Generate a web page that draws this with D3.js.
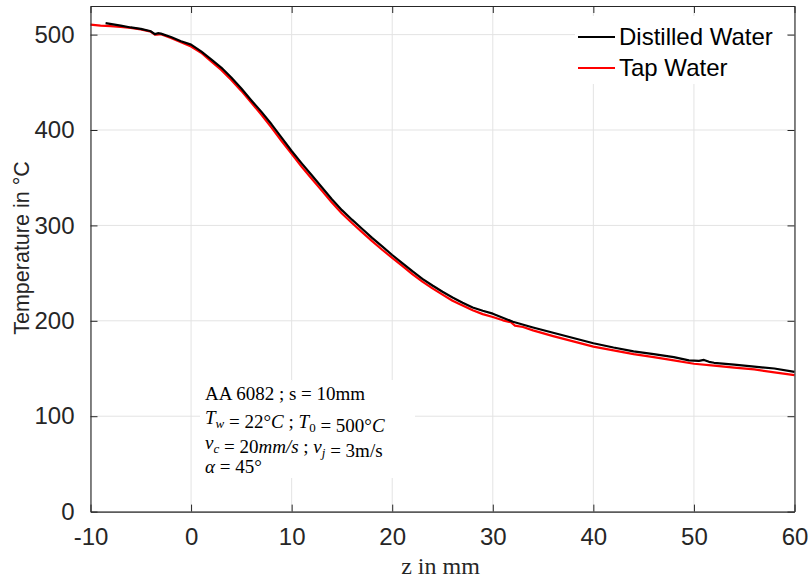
<!DOCTYPE html>
<html>
<head>
<meta charset="utf-8">
<script src="https://cdn.jsdelivr.net/npm/d3@7"></script>
<style>
  body { margin: 0; background: #fff; }
  svg { display: block; }
</style>
</head>
<body>
<div id="chart"></div>
<script>
// ---- data ----
const zDistilled = [-8.5, -7, -6, -5, -4, -3.6, -3.3, -3, -2, -1,
    0, 1, 2, 3, 4, 5, 6, 7, 8, 9,
    10, 11, 12, 13, 14, 15, 16, 17, 18, 19,
    20, 21, 22, 23, 24, 25, 26, 27, 28, 29, 30,
    32, 34, 36, 38, 40, 42, 44, 46, 48, 49.5, 50.5, 51, 51.5, 52, 54, 56, 58, 60];
const tDistilled = [512, 509.5, 507.5, 506, 503.5, 500.5, 501.5, 501, 497.5, 493,
    489.5, 482.5, 474, 465.5, 455, 443.5, 431, 419, 406, 392,
    378, 365, 352.5, 340, 327.5, 316, 306, 296.5, 287, 278,
    269, 260.5, 252, 244, 237, 230.5, 224.5, 219, 214, 210.5, 207.5,
    199, 193, 187.5, 182, 176.5, 172, 168, 165, 162, 158.5, 158, 159, 157, 156, 154, 152, 150, 146.5];

const zTap = [-10, -9, -8, -7, -6, -5, -4, -3.6, -3.4, -3, -2, -1,
    0, 1, 2, 3, 4, 5, 6, 7, 8, 9,
    10, 11, 12, 13, 14, 15, 16, 17, 18, 19,
    20, 21, 22, 23, 24, 25, 26, 27, 28, 29, 30,
    31, 31.8, 32.2, 33, 34, 36, 38, 40, 42, 44, 46, 48, 50, 52, 54, 56, 58, 60];
const tTap = [510.5, 509.5, 509, 508, 507, 505.5, 503, 500, 500, 500.5, 496.5, 492,
    487.5, 481, 472, 463, 452.5, 441, 428.5, 416, 402.5, 388.5,
    375, 361.5, 349, 336.5, 324, 312.5, 302.5, 293, 283.5, 274.5,
    266, 257.5, 249, 241, 234, 227.5, 221, 216, 211, 207, 204,
    200.5, 198.5, 195, 193.5, 190, 184, 178.5, 173, 169, 165, 162, 158.5, 155, 153, 151, 149, 146, 143];

const seriesNames = ["Distilled Water", "Tap Water"];
const seriesColors = ["#000000", "#ff0000"];
const xTicks = [-10, 0, 10, 20, 30, 40, 50, 60];
const yTicks = [0, 100, 200, 300, 400, 500];
const xDomain = [-10, 60];
const yDomain = [0, 530];

// annotation lines: segments of [text, italic, subscript]
const noteLines = [
    [["AA 6082 ; s = 10mm"]],
    [["T", 1], ["w", 1, 1], [" = 22°"], ["C", 1], [" ; "], ["T", 1], ["0", 0, 1], [" = 500°"], ["C", 1]],
    [["v", 1], ["c", 1, 1], [" = 20"], ["mm/s", 1], [" ; "], ["v", 1], ["j", 1, 1], [" = 3m/s"]],
    [["α", 1], [" = 45°"]]
];

// ---- layout ----
const W = 810, H = 580;
const margin = { top: 6, right: 15.5, bottom: 68.4, left: 90.5 };
const axisColor = "#262626";
const sans = "'Liberation Sans', Arial, Helvetica, sans-serif";
const serif = "'Liberation Serif', 'Times New Roman', serif";

const svg = d3.select("#chart").append("svg")
    .attr("width", W)
    .attr("height", H);

const x = d3.scaleLinear().domain(xDomain).range([margin.left, W - margin.right]);
const y = d3.scaleLinear().domain(yDomain).range([H - margin.bottom, margin.top]);

const [x0, x1] = x.range();
const [y0, y1] = y.range();

// grid
const grid = svg.append("g").attr("stroke", "#e3e3e3").attr("stroke-width", 1);
grid.selectAll("line.gx").data(xTicks).join("line")
    .attr("x1", d => x(d)).attr("x2", d => x(d))
    .attr("y1", y1).attr("y2", y0);
grid.selectAll("line.gy").data(yTicks).join("line")
    .attr("x1", x0).attr("x2", x1)
    .attr("y1", d => y(d)).attr("y2", d => y(d));

// text box behind the annotation (covers grid like matlab)
svg.append("rect")
    .attr("x", 200).attr("y", 380)
    .attr("width", 215).attr("height", 98)
    .attr("fill", "#fff");

// lines
const line = d3.line().x(d => x(d[0])).y(d => y(d[1]));
const series = [
    d3.zip(zDistilled, tDistilled),
    d3.zip(zTap, tTap)
];
// tap drawn first so black sits on top, like the reference
[1, 0].forEach(i => {
    svg.append("path")
        .datum(series[i])
        .attr("fill", "none")
        .attr("stroke", seriesColors[i])
        .attr("stroke-width", 2.2)
        .attr("stroke-linejoin", "round")
        .attr("d", line);
});

// axes (box with inner ticks on all sides)
const tickLen = 7;
const fmt = d => String(d);   // plain hyphen for -10 like matlab
const xAxisB = d3.axisBottom(x).tickValues(xTicks).tickSizeInner(-tickLen).tickSizeOuter(0).tickPadding(16).tickFormat(fmt);
const xAxisT = d3.axisTop(x).tickValues(xTicks).tickSizeInner(-tickLen).tickSizeOuter(0).tickFormat("");
const yAxisL = d3.axisLeft(y).tickValues(yTicks).tickSizeInner(-tickLen).tickSizeOuter(0).tickPadding(16).tickFormat(fmt);
const yAxisR = d3.axisRight(y).tickValues(yTicks).tickSizeInner(-tickLen).tickSizeOuter(0).tickFormat("");

function styleAxis(g) {
    g.select(".domain").attr("stroke", axisColor).attr("stroke-width", 1.1);
    g.selectAll(".tick line").attr("stroke", axisColor).attr("stroke-width", 1);
    g.selectAll(".tick text")
        .attr("fill", axisColor)
        .style("font-family", sans)
        .style("font-size", "24px");
}

svg.append("g").attr("transform", `translate(0,${y0})`).call(xAxisB).call(styleAxis);
svg.append("g").attr("transform", `translate(0,${y1})`).call(xAxisT).call(styleAxis);
svg.append("g").attr("transform", `translate(${x0},0)`).call(yAxisL).call(styleAxis);
svg.append("g").attr("transform", `translate(${x1},0)`).call(yAxisR).call(styleAxis);

svg.selectAll("g text").attr("font-family", null);

// axis labels
svg.append("text")
    .attr("x", (x0 + x1) / 2 - 2)
    .attr("y", 574)
    .attr("text-anchor", "middle")
    .style("font-family", serif)
    .style("font-size", "24px")
    .attr("fill", axisColor)
    .text("z in mm");

svg.append("text")
    .attr("transform", `translate(29,${248}) rotate(-90)`)
    .attr("text-anchor", "middle")
    .style("font-family", sans)
    .style("font-size", "21.5px")
    .attr("fill", axisColor)
    .text("Temperature in °C");

// legend
const legend = svg.append("g");
legend.append("rect")
    .attr("x", 575).attr("y", 16)
    .attr("width", 212).attr("height", 68)
    .attr("fill", "#fff");
seriesNames.forEach((name, i) => {
    const ly = 37 + i * 31;
    legend.append("line")
        .attr("x1", 578).attr("x2", 615)
        .attr("y1", ly).attr("y2", ly)
        .attr("stroke", seriesColors[i])
        .attr("stroke-width", 2.2);
    legend.append("text")
        .attr("x", 619).attr("y", ly)
        .attr("dy", "0.35em")
        .style("font-family", sans)
        .style("font-size", "24px")
        .attr("fill", "#000")
        .text(name);
});

// annotation
const note = svg.append("g")
    .style("font-family", serif)
    .style("font-size", "19px")
    .attr("fill", "#000");
noteLines.forEach((segs, i) => {
    const t = note.append("text")
        .attr("x", 205)
        .attr("y", 400 + i * 24.3);
    segs.forEach(([txt, ital, sub]) => {
        const s = t.append("tspan")
            .attr("font-style", ital ? "italic" : "normal")
            .text(txt);
        if (sub) {
            s.attr("font-size", "13px").attr("dy", 4);
            // next segment returns to baseline
            t.append("tspan").attr("dy", -4).text("");
        }
    });
});
</script>
</body>
</html>
